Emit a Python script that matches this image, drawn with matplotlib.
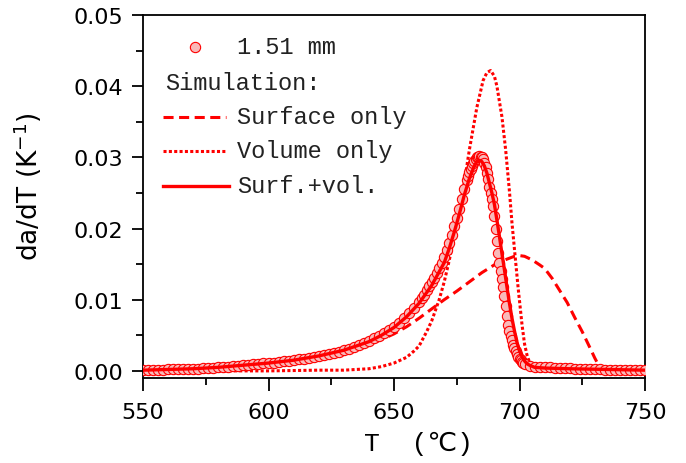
import matplotlib
matplotlib.use("Agg")
import matplotlib.pyplot as plt
from matplotlib.lines import Line2D
from matplotlib.ticker import MultipleLocator, FixedLocator, FixedFormatter

# ---------------- data ----------------
meas_T = [550, 552, 554, 556, 558, 560, 562, 564, 566, 568, 570, 572, 574, 576, 578,
          580, 582, 584, 586, 588, 590, 592, 594, 596, 598, 600, 602, 604, 606, 608,
          610, 612, 614, 616, 618, 620, 622, 624, 626, 628, 630, 632, 634, 636, 638,
          640, 642, 644, 646, 648, 650, 652, 654, 656, 658,
          660, 661, 662, 663, 664, 665, 666, 667, 668, 669, 670, 671, 672, 673, 674,
          675, 676, 677, 678, 679,
          679.5, 680, 680.5, 681, 681.5, 682, 682.5, 683, 683.5, 684, 684.5, 685, 685.5,
          686, 686.5, 687, 687.5, 688, 688.5, 689, 689.5, 690, 690.5, 691, 691.5, 692,
          692.5, 693, 693.5, 694, 694.5, 695, 695.5, 696, 696.5, 697, 697.5, 698, 698.5,
          699, 699.5, 700, 700.5, 701, 701.5, 702,
          704, 706, 708, 710, 712, 714, 716, 718, 720, 722, 724, 726, 728, 730, 732,
          734, 736, 738, 740, 742, 744, 746, 748, 750]
meas_v = [0.00010, 0.00012, 0.00013, 0.00015, 0.00017, 0.00020, 0.00022, 0.00024, 0.00026,
          0.00028, 0.00030, 0.00033, 0.00036, 0.00040, 0.00045, 0.00050, 0.00055, 0.00060,
          0.00066, 0.00072, 0.00078, 0.00084, 0.00090, 0.00097, 0.00104, 0.00110, 0.00117,
          0.00125, 0.00133, 0.00141, 0.00150, 0.00161, 0.00172, 0.00184, 0.00196, 0.00210,
          0.00225, 0.00240, 0.00256, 0.00272, 0.00290, 0.00312, 0.00335, 0.00360, 0.00388,
          0.00420, 0.00455, 0.00492, 0.00530, 0.00573, 0.00620, 0.00677, 0.00740, 0.00808,
          0.00885,
          0.0097, 0.0102, 0.0107, 0.0113, 0.0119, 0.0125, 0.0131, 0.0138, 0.0145, 0.0152,
          0.0160, 0.0170, 0.0180, 0.0191, 0.0203, 0.0215, 0.0228, 0.0242, 0.0255, 0.0268,
          0.0274, 0.0279, 0.0284, 0.0288, 0.0292, 0.0295, 0.0298, 0.0300, 0.0301, 0.0302,
          0.0301, 0.0300, 0.0297, 0.0292, 0.0286, 0.0278, 0.0269, 0.0259, 0.0250, 0.0241,
          0.0231, 0.0218, 0.0200, 0.0182, 0.0166, 0.0152, 0.0140, 0.0129, 0.0118, 0.0105,
          0.0091, 0.0077, 0.0065, 0.0056, 0.0049, 0.0043, 0.0037, 0.0032, 0.0028, 0.0024,
          0.0020, 0.0017, 0.0015, 0.0013, 0.0011, 0.0010,
          0.0007, 0.0006, 0.0005, 0.0005, 0.0005, 0.0004, 0.0004, 0.0004, 0.0004, 0.0003,
          0.0003, 0.0003, 0.0002, 0.0002, 0.0002, 0.0001, 0.0001, 0.0001, 0.0001, 0.0001,
          0.0001, 0.0001, 0.0001, 0.0001]

surf_T = [550, 570, 590, 600, 610, 620, 630, 640, 645, 650, 655, 660, 665, 670, 675, 680,
          685, 690, 695, 698, 700, 702, 705, 708, 710, 713, 716, 719, 722, 725, 728, 730, 731.5]
surf_v = [0.0001, 0.0003, 0.0007, 0.0010, 0.0014, 0.0020, 0.0027, 0.0037, 0.0044, 0.0052,
          0.0062, 0.0074, 0.0087, 0.0100, 0.0112, 0.0125, 0.0138, 0.0149, 0.0157, 0.0161,
          0.0162, 0.0161, 0.0156, 0.0149, 0.0144, 0.0130, 0.0113, 0.0096, 0.0075, 0.0055,
          0.0033, 0.0018, 0.0008]

vol_T = [550, 600, 620, 630, 640, 645, 650, 655, 658, 660, 663, 665, 668, 670, 672, 674,
         677, 680, 683, 685.5, 687, 688.5, 690, 691, 693, 694.5, 696, 697, 698.5, 699.5,
         701, 702, 703, 704, 705, 706, 708, 720, 750]
vol_v = [0.0, 0.0, 0.0001, 0.0001, 0.0003, 0.0006, 0.0011, 0.0019, 0.0028, 0.0035, 0.0055,
         0.0070, 0.0100, 0.0125, 0.0155, 0.0190, 0.0242, 0.0310, 0.0370, 0.0408, 0.0419,
         0.0422, 0.0414, 0.0400, 0.0357, 0.0310, 0.0252, 0.0208, 0.0152, 0.0115, 0.0065,
         0.0038, 0.0022, 0.0012, 0.0006, 0.0003, 0.0001, 0.0, 0.0]

both_T = [550, 560, 570, 580, 590, 600, 610, 620, 630, 640, 645, 650, 655, 660, 665, 670,
          672, 674, 676, 678, 680, 682, 683, 684, 685, 686, 687, 688, 689, 690, 691, 692,
          693, 694, 695, 696, 697, 698, 699, 700, 701, 702, 703, 704, 706, 710, 720, 735, 750]
both_v = [0.0001, 0.0002, 0.0003, 0.0005, 0.0008, 0.0011, 0.0015, 0.0021, 0.0029, 0.0041,
          0.0050, 0.0061, 0.0076, 0.0095, 0.0120, 0.0152, 0.0172, 0.0195, 0.0220, 0.0247,
          0.0270, 0.0288, 0.0294, 0.0296, 0.0294, 0.0288, 0.0278, 0.0264, 0.0250, 0.0234,
          0.0212, 0.0189, 0.0165, 0.0142, 0.0118, 0.0095, 0.0074, 0.0056, 0.0040, 0.0028,
          0.0020, 0.0014, 0.0010, 0.0008, 0.0005, 0.0004, 0.0003, 0.0002, 0.0001]

x_ticks = [550, 600, 650, 700, 750]
x_ticklabels = ["550", "600", "650", "700", "750"]
y_ticks = [0.00, 0.01, 0.02, 0.03, 0.04, 0.05]
y_ticklabels = ["0.00", "0.01", "0.02", "0.03", "0.04", "0.05"]

legend_labels = ["1.51 mm", "Simulation:", "Surface only", "Volume only", "Surf.+vol."]

# ---------------- figure ----------------
RED = "#ff0000"
PINK = "#f9b9b9"
MONO = ["Liberation Mono", "DejaVu Sans Mono", "DejaVu Sans"]

fig = plt.figure(figsize=(6.86, 4.64), dpi=100)
ax = fig.add_axes([143 / 686, 1 - 379 / 464, 502 / 686, 363 / 464])

ax.plot(surf_T, surf_v, color=RED, lw=2.2, dashes=(3.3, 1.8), zorder=2)
ax.plot(vol_T, vol_v, color=RED, lw=2.2, dashes=(1.0, 0.75), zorder=2)
ax.plot(meas_T, meas_v, linestyle="none", marker="o", ms=7.4, mfc=PINK, mec=RED,
        mew=0.8, zorder=3)
ax.plot(both_T, both_v, color=RED, lw=2.4, zorder=4)

ax.set_xlim(550, 750)
ax.set_ylim(-0.001, 0.05)

ax.xaxis.set_major_locator(FixedLocator(x_ticks))
ax.xaxis.set_major_formatter(FixedFormatter(x_ticklabels))
ax.xaxis.set_minor_locator(MultipleLocator(25))
ax.yaxis.set_major_locator(FixedLocator(y_ticks))
ax.yaxis.set_major_formatter(FixedFormatter(y_ticklabels))
ax.yaxis.set_minor_locator(MultipleLocator(0.005))

ax.tick_params(axis="both", which="both", direction="out", width=1.3, colors="black")
ax.tick_params(axis="x", which="major", length=9, pad=8, labelsize=16)
ax.tick_params(axis="x", which="minor", length=5)
ax.tick_params(axis="y", which="major", length=8, pad=6, labelsize=16)
ax.tick_params(axis="y", which="minor", length=5)
ax.tick_params(top=False, right=False, which="both")
for sp in ax.spines.values():
    sp.set_linewidth(1.3)

ax.set_xlabel("T  (\u2103)", fontsize=19, family=MONO)
ax.xaxis.set_label_coords((418 - 143) / 502, (379 - 432) / 363)
ax.set_ylabel("da/dT (K$^{-1}$)", fontsize=19)
ax.yaxis.set_label_coords((44 - 143) / 502, (379 - 187) / 363)

# ---------------- legend (manual) ----------------
tx = (237 - 143) / 502
rows_y = [(379 - 48) / 363, (379 - 83) / 363, (379 - 118) / 363,
          (379 - 152) / 363, (379 - 187) / 363]
hx0, hx1 = (163 - 143) / 502, (226 - 143) / 502

ax.add_line(Line2D([(195 - 143) / 502], [rows_y[0]], transform=ax.transAxes,
                   linestyle="none", marker="o", ms=7.4, mfc=PINK, mec=RED, mew=0.8))
ax.add_line(Line2D([hx0, hx1], [rows_y[2]] * 2, transform=ax.transAxes, color=RED,
                   lw=2.2, dashes=(3.3, 1.8)))
ax.add_line(Line2D([hx0, hx1], [rows_y[3]] * 2, transform=ax.transAxes, color=RED,
                   lw=2.2, dashes=(1.0, 0.75)))
ax.add_line(Line2D([hx0, hx1 + 0.005], [rows_y[4]] * 2, transform=ax.transAxes,
                   color=RED, lw=2.4))

for i, lab in enumerate(legend_labels):
    x = (165 - 143) / 502 if i == 1 else tx
    ax.text(x, rows_y[i], lab, transform=ax.transAxes, family=MONO, fontsize=17,
            va="center", ha="left", color="#222222")

fig.savefig("out.png", dpi=100)
